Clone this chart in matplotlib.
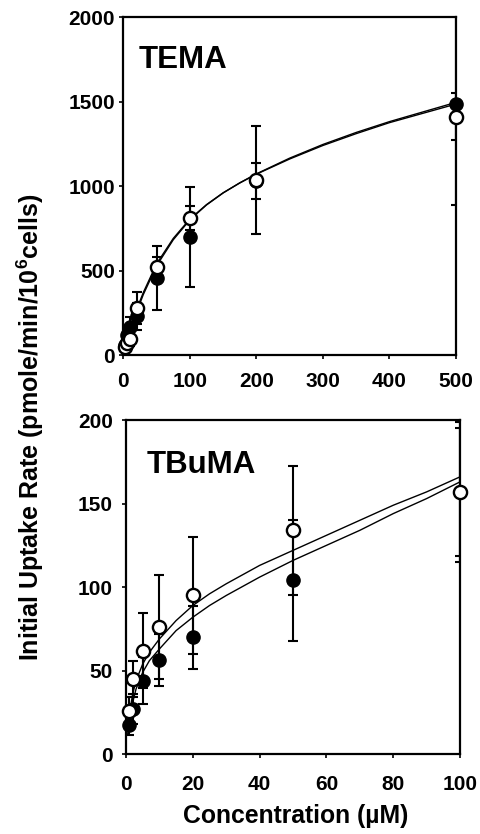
import matplotlib
matplotlib.use("Agg")
import matplotlib.pyplot as plt

plt.rcParams["font.family"] = ["Liberation Sans", "DejaVu Sans"]
plt.rcParams["font.weight"] = "bold"
plt.rcParams["mathtext.fontset"] = "custom"
plt.rcParams["mathtext.rm"] = "Liberation Sans:bold"
plt.rcParams["mathtext.it"] = "Liberation Sans:bold"
plt.rcParams["mathtext.default"] = "rm"

# TEMA panel (0-500 uM)
tema_x = [2, 5, 10, 20, 50, 100, 200, 500]
tema_open = [45, 70, 95, 276, 523, 809, 1036, 1411]
tema_open_err = [20, 30, 40, 95, 60, 70, 320, 138]
tema_filled = [60, 120, 165, 230, 454, 700, 1030, 1486]
tema_filled_err = [25, 50, 60, 80, 190, 295, 105, 600]

# fitted curves
tema_fit_x = [0, 5, 10, 20, 30, 50, 75, 100, 125, 150, 175, 200, 250, 300, 350, 400, 450, 500]
tema_fit_a = [0, 70, 140, 270, 370, 540, 690, 805, 890, 960, 1018, 1070, 1160, 1240, 1310, 1375, 1430, 1485]
tema_fit_b = [0, 62, 128, 255, 358, 528, 682, 800, 888, 959, 1019, 1072, 1165, 1246, 1317, 1381, 1438, 1495]

# TBuMA panel (0-100 uM)
tbuma_x = [1, 2, 5, 10, 20, 50, 100]
tbuma_open = [26, 45, 62, 76, 95, 134, 157]
tbuma_open_err = [8, 11, 22.5, 31, 35, 38.5, 38.5]
tbuma_filled = [17.5, 27, 44, 56.5, 70, 104, 157]
tbuma_filled_err = [6, 9, 14, 15.7, 19, 36, 42]

tbuma_fit_x = [0.5, 1, 2, 3, 5, 7, 10, 15, 20, 25, 30, 40, 50, 60, 70, 80, 90, 100]
tbuma_fit_open = [15, 24, 36, 44, 54, 61, 69, 80, 89, 96, 102, 113, 122, 131, 140, 149, 157, 166]
tbuma_fit_filled = [12, 20, 31, 39, 49, 56, 63, 74, 82, 89, 95, 106, 116, 125, 134, 144, 153, 163]

fig = plt.figure(figsize=(4.8, 8.34), dpi=100)
ax1 = fig.add_axes([0.257, 0.5743, 0.693, 0.4053])
ax2 = fig.add_axes([0.2625, 0.0956, 0.696, 0.4008])


def draw_panel(ax, x, yo, eo, yf, ef, fx, fa, fb):
    ax.plot(fx, fa, color="black", lw=1.0, zorder=2)
    ax.plot(fx, fb, color="black", lw=1.0, zorder=2)
    ax.errorbar(x, yf, yerr=ef, fmt="none", ecolor="black", elinewidth=1.5,
                capsize=3.6, capthick=1.5, zorder=3)
    ax.errorbar(x, yo, yerr=eo, fmt="none", ecolor="black", elinewidth=1.5,
                capsize=3.6, capthick=1.5, zorder=3)
    ax.plot(x, yf, "o", ms=9.5, mfc="black", mec="black", clip_on=False, zorder=4)
    ax.plot(x, yo, "o", ms=9.5, mfc="white", mec="black", mew=1.7,
            clip_on=False, zorder=5)
    for s in ax.spines.values():
        s.set_linewidth(1.6)
    ax.tick_params(direction="out", length=3, width=1.2, labelsize=15)


draw_panel(ax1, tema_x, tema_open, tema_open_err, tema_filled, tema_filled_err,
           tema_fit_x, tema_fit_a, tema_fit_b)
ax1.set_xlim(0, 500)
ax1.set_ylim(0, 2000)
ax1.set_xticks([0, 100, 200, 300, 400, 500])
ax1.set_yticks([0, 500, 1000, 1500, 2000])
ax1.tick_params(axis="x", pad=9.5)
ax1.tick_params(axis="y", pad=3)
ax1.text(0.047, 0.849, "TEMA", transform=ax1.transAxes, fontsize=22.5,
         fontweight="bold", va="baseline", ha="left")

draw_panel(ax2, tbuma_x, tbuma_open, tbuma_open_err, tbuma_filled, tbuma_filled_err,
           tbuma_fit_x, tbuma_fit_open, tbuma_fit_filled)
ax2.set_xlim(0, 100)
ax2.set_ylim(0, 200)
ax2.set_xticks([0, 20, 40, 60, 80, 100])
ax2.set_yticks([0, 50, 100, 150, 200])
ax2.tick_params(axis="x", pad=12)
ax2.tick_params(axis="y", pad=6.5)
ax2.text(0.062, 0.84, "TBuMA", transform=ax2.transAxes, fontsize=22.5,
         fontweight="bold", va="baseline", ha="left")

fig.text(0.0625, 0.488, "Initial Uptake Rate (pmole/min/10$^{6}$cells)",
         rotation=90, fontsize=18, fontweight="bold", ha="center", va="center")
fig.text(0.615, 0.0216, "Concentration (\u00b5M)", fontsize=17.8,
         fontweight="bold", ha="center", va="center")

fig.savefig("out.png", dpi=100)
